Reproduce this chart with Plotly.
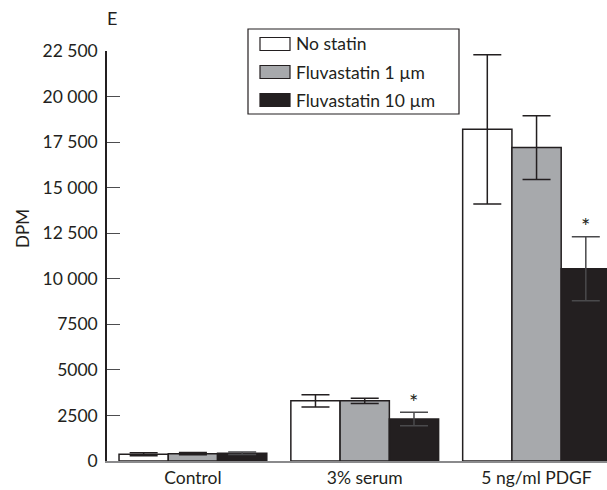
import plotly.graph_objects as go

# Thymidine incorporation (DPM) by stimulus and fluvastatin dose
conditions = ["Control", "3% serum", "5 ng/ml PDGF"]
series_names = ["No statin", "Fluvastatin 1 µm", "Fluvastatin 10 µm"]
no_statin = [370, 3300, 18200]
no_statin_err = [80, 340, 4100]
fluva_1 = [400, 3300, 17200]
fluva_1_err = [60, 150, 1750]
fluva_10 = [430, 2300, 10550]
fluva_10_err = [70, 370, 1750]
significant = ["3% serum", "5 ng/ml PDGF"]  # marked with * for the 10 µm dose

y_tickvals = [0, 2500, 5000, 7500, 10000, 12500, 15000, 17500, 20000, 22500]
y_ticktext = ["0", "2500", "5000", "7500", "10 000", "12 500", "15 000",
              "17 500", "20 000", "22 500"]

INK = "#231f20"
fills = ["#ffffff", "#a7a9ac", INK]
err_colors = [INK, INK, "#4a4a4c"]  # lighter whisker stays visible on black
FONT = "Lato, 'Open Sans', sans-serif"

W, H = 607, 490
ML, MR, MT, MB = 107, 0, 51, 29
PW, PH = W - ML - MR, H - MT - MB


def px(x):
    """Figure pixel x -> paper coordinate."""
    return (x - ML) / PW


def py(y):
    """Figure pixel y (from top) -> paper coordinate."""
    return (H - MB - y) / PH


fig = go.Figure()
for name, vals, errs, fill, ecol in zip(series_names,
                                        [no_statin, fluva_1, fluva_10],
                                        [no_statin_err, fluva_1_err, fluva_10_err],
                                        fills, err_colors):
    fig.add_trace(go.Bar(
        x=conditions, y=vals, name=name,
        marker=dict(color=fill, line=dict(color=INK, width=1.5)),
        error_y=dict(type="data", array=errs, visible=True,
                     color=ecol, thickness=1.5, width=14),
        showlegend=False,
    ))

# significance asterisks above the 10 µm bars
for cond in significant:
    i = conditions.index(cond)
    fig.add_annotation(x=cond, y=fluva_10[i] + fluva_10_err[i],
                       xref="x", yref="y", text="*", showarrow=False,
                       xshift=49, yshift=11, yanchor="middle",
                       font=dict(size=22, color=INK, family=FONT))

# boxed legend drawn with shapes and labels
fig.add_shape(type="rect", xref="paper", yref="paper",
              x0=px(248), x1=px(459), y0=py(114), y1=py(29),
              line=dict(color=INK, width=1.2), fillcolor="white",
              layer="above")
row_centers = [44, 72, 100]
for name, fill, yc in zip(series_names, fills, row_centers):
    fig.add_shape(type="rect", xref="paper", yref="paper",
                  x0=px(260), x1=px(290), y0=py(yc + 6.5), y1=py(yc - 6.5),
                  line=dict(color=INK, width=1.2), fillcolor=fill,
                  layer="above")
    fig.add_annotation(x=px(294), y=py(yc), xref="paper", yref="paper",
                       text=name, showarrow=False, xanchor="left",
                       yanchor="middle",
                       font=dict(size=17.5, color=INK, family=FONT))

# panel letter and y-axis title
fig.add_annotation(x=px(112), y=py(18), xref="paper", yref="paper",
                   text="E", showarrow=False, xanchor="center",
                   yanchor="middle", font=dict(size=18, color=INK, family=FONT))
fig.add_annotation(x=px(22), y=py(229), xref="paper", yref="paper",
                   text="DPM", showarrow=False, textangle=-90,
                   xanchor="center", yanchor="middle",
                   font=dict(size=17, color=INK, family=FONT))

fig.update_layout(
    width=W, height=H,
    margin=dict(l=ML, r=MR, t=MT, b=MB),
    paper_bgcolor="white", plot_bgcolor="white",
    barmode="group", bargap=0.14, bargroupgap=0,
    font=dict(family=FONT, size=17, color=INK),
    xaxis=dict(range=[-0.5, 2.41], showgrid=False, zeroline=False,
               showline=True, linecolor="#8a8a8c", linewidth=1.5,
               ticks="", tickfont=dict(size=17.5, color=INK)),
    yaxis=dict(range=[0, 22500], tickvals=y_tickvals, ticktext=y_ticktext,
               showgrid=False, zeroline=False, showline=True,
               linecolor=INK, linewidth=1.5, ticks="inside", ticklen=13,
               tickwidth=1.3, tickcolor="#4d4d4f",
               tickfont=dict(size=17.5, color=INK), ticklabelstandoff=4),
)

fig.write_html("out.html")
